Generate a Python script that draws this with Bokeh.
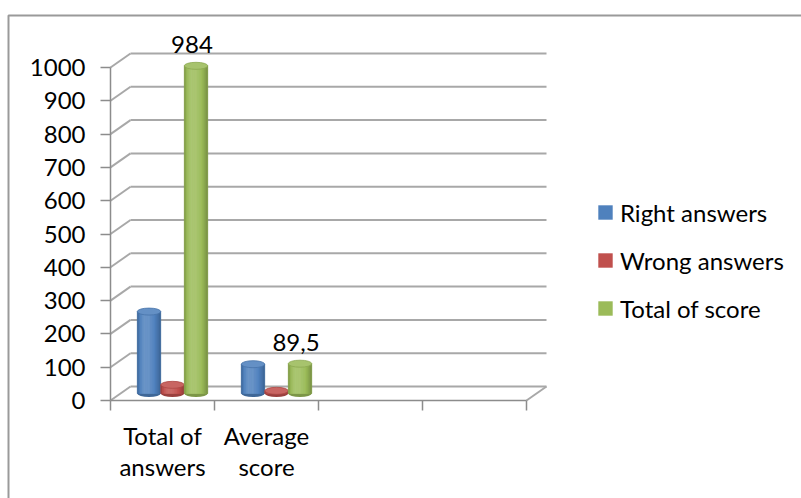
from bokeh.plotting import figure
from bokeh.models import (Range1d, LinearAxis, FixedTicker, ColumnDataSource,
                          Legend, LegendItem)
from bokeh.core.properties import value
from bokeh.embed import file_html
from bokeh.resources import INLINE

# ---- data -------------------------------------------------------------
categories = ["Total of\nanswers", "Average\nscore"]
series_names = ["Right answers", "Wrong answers", "Total of score"]
right_answers = [246, 88]
wrong_answers = [26, 8]
total_of_score = [984, 89.5]
value_ticks = [0, 100, 200, 300, 400, 500, 600, 700, 800, 900, 1000]
series_colors = ["#4F81BD", "#C0504D", "#9BBB59"]
series_values = [right_answers, wrong_answers, total_of_score]

# ---- layout (pixels) --------------------------------------------------
WIDTH, HEIGHT = 801, 498
ORIGIN_X, ORIGIN_Y = 110, 400      # front corner of the value axis at 0
SLOT_PX = 104                      # width of one category slot
UNIT_PX = 0.333                    # pixels per value unit
N_SLOTS = 4
DEPTH_X_PX, DEPTH_Y_PX = 20, 14    # perspective shift of the back wall
BAR_PX = 23.5
CAP_PX = 7
FONT = "Lato"
FONT_SIZE = "24px"
WALL = "#a8a8a8"
AXIS = "#8c8c8c"


def sx(px):
    return px / SLOT_PX


def sy(px):
    return px / UNIT_PX


def at_x(px):
    return (px - ORIGIN_X) / SLOT_PX


def at_y(py):
    return (ORIGIN_Y - py) / UNIT_PX


def shade(hex_color, f):
    r, g, b = (int(hex_color[i:i + 2], 16) for i in (1, 3, 5))
    if f >= 1:
        k = f - 1
        r, g, b = (c + (255 - c) * k for c in (r, g, b))
    else:
        r, g, b = (c * f for c in (r, g, b))
    return "#%02x%02x%02x" % tuple(max(0, min(255, int(round(c)))) for c in (r, g, b))


def cylinder_light(t):
    d = (t - 0.35) / 0.35 if t < 0.35 else (t - 0.35) / 0.65
    return 0.76 + 0.40 * (1 - d * d)


p = figure(width=WIDTH, height=HEIGHT,
           x_range=Range1d(at_x(0), at_x(WIDTH)),
           y_range=Range1d(at_y(HEIGHT), at_y(0)),
           x_axis_location=None, y_axis_location=None,
           toolbar_location=None, output_backend="svg",
           min_border=0, outline_line_color=None,
           background_fill_color="white", border_fill_color="white")
p.grid.visible = False

# chart area frame
p.quad(left=at_x(8), right=at_x(WIDTH + 20), top=at_y(15), bottom=at_y(HEIGHT + 20),
       fill_color=None, line_color="#9a9a9a", line_width=2)

# back wall, side wall and floor
gx, gy = sx(DEPTH_X_PX), sy(DEPTH_Y_PX)
n = len(value_ticks)
p.segment(x0=[gx] * n, y0=[t + gy for t in value_ticks],
          x1=[N_SLOTS + gx] * n, y1=[t + gy for t in value_ticks],
          line_color=WALL, line_width=2)
p.segment(x0=[0] * n, y0=value_ticks, x1=[gx] * n, y1=[t + gy for t in value_ticks],
          line_color=WALL, line_width=2)
p.segment(x0=[N_SLOTS], y0=[0], x1=[N_SLOTS + gx], y1=[gy],
          line_color=WALL, line_width=2)

# value axis on the front edge
yaxis = LinearAxis(ticker=FixedTicker(ticks=value_ticks), fixed_location=0,
                   bounds=(value_ticks[0], value_ticks[-1]),
                   axis_line_color=AXIS, axis_line_width=1.5,
                   major_tick_line_color=AXIS, major_tick_line_width=1.5,
                   major_tick_out=10, major_tick_in=0, minor_tick_line_color=None,
                   major_label_text_font=FONT, major_label_text_font_size=FONT_SIZE,
                   major_label_text_color="black", major_label_standoff=15)
p.add_layout(yaxis, "left")

# floor edge with slot boundaries
slot_ticks = list(range(N_SLOTS + 1))
floor_axis = LinearAxis(ticker=FixedTicker(ticks=slot_ticks), fixed_location=0,
                        bounds=(0, N_SLOTS),
                        axis_line_color=AXIS, axis_line_width=1.5,
                        major_tick_line_color=AXIS, major_tick_line_width=1.5,
                        major_tick_out=10, major_tick_in=0, minor_tick_line_color=None,
                        major_label_overrides={t: "" for t in slot_ticks})
p.add_layout(floor_axis, "below")

# category names under the slots
cat_ticks = [i + 0.5 for i in range(len(categories))]
cat_axis = LinearAxis(ticker=FixedTicker(ticks=cat_ticks), fixed_location=0,
                      axis_line_color=None, major_tick_line_color=None,
                      minor_tick_line_color=None,
                      major_label_overrides=dict(zip(cat_ticks, categories)),
                      major_label_text_font=FONT, major_label_text_font_size=FONT_SIZE,
                      major_label_text_color="black", major_label_standoff=14,
                      major_label_text_line_height=1.1)
p.add_layout(cat_axis, "below")

# cylinders
bw = sx(BAR_PX)
base = gy / 2
N_STRIPS = 14
legend_items = []
for s, (name, vals, col) in enumerate(zip(series_names, series_values, series_colors)):
    cx = [i + 0.5 + (s - 1) * bw + gx / 2 for i in range(len(vals))]
    tops = [v + base for v in vals]
    p.ellipse(x=cx, y=[base] * len(vals), width=bw, height=CAP_PX,
              height_units="screen", fill_color=shade(col, 0.8), line_color=None)
    body = p.quad(left=[c - bw / 2 for c in cx], right=[c + bw / 2 for c in cx],
                  bottom=base, top=tops, fill_color=col, line_color=None)
    strips = dict(left=[], right=[], top=[], color=[])
    for c, t in zip(cx, tops):
        for k in range(N_STRIPS):
            x0 = c - bw / 2 + k * bw / N_STRIPS
            strips["left"].append(x0)
            strips["right"].append(x0 + bw / N_STRIPS)
            strips["top"].append(t)
            strips["color"].append(shade(col, cylinder_light((k + 0.5) / N_STRIPS)))
    p.quad(left="left", right="right", bottom=base, top="top",
           fill_color="color", line_color="color", line_width=0.5,
           source=ColumnDataSource(strips))
    p.ellipse(x=cx, y=tops, width=bw, height=CAP_PX, height_units="screen",
              fill_color=shade(col, 1.12), line_color=shade(col, 0.9), line_width=0.8)
    legend_items.append(LegendItem(label=name, renderers=[body]))

# value labels on the score series
score_x = [i + 0.5 + bw + gx / 2 - sx(4) for i in range(len(total_of_score))]
p.text(x=score_x, y=[v + base for v in total_of_score],
       text=[("%g" % v).replace(".", ",") for v in total_of_score],
       text_font=value(FONT), text_font_size=FONT_SIZE, text_color="black",
       text_align="center", text_baseline="bottom", y_offset=-13)

legend = Legend(items=legend_items, location=(596, 175),
                glyph_width=18, glyph_height=18, label_standoff=6,
                label_text_font=FONT, label_text_font_size=FONT_SIZE,
                label_text_color="black", label_height=30, spacing=18,
                padding=0, margin=0, border_line_color=None,
                background_fill_alpha=0)
p.add_layout(legend)

open("out.html", "w").write(file_html(p, INLINE))
